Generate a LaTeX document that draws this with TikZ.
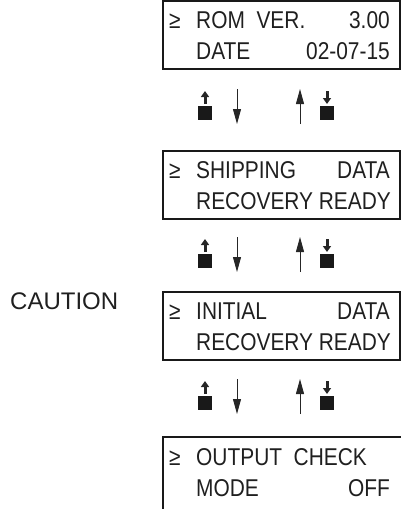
\documentclass[tikz,border=0pt]{standalone}
\usepackage{fontspec}
\setmainfont{Liberation Sans}
\newfontfamily\lcdfont[FakeStretch=0.86]{Liberation Sans}
\usetikzlibrary{arrows.meta}

\begin{document}
\begin{tikzpicture}[x=1pt,y=-1pt,
 lcd/.style={draw=black!90,line width=1.3pt},
 txt/.style={inner sep=0pt,anchor=base west,text=black!88,font=\lcdfont\fontsize{24.3}{28}\selectfont},
 rtxt/.style={txt,anchor=base east},
 thinarrow/.style={black!85,line width=0.9pt,-{Triangle[width=8pt,length=15pt]}},
 keyarrow/.style={black!85,line width=3pt,-{Triangle[width=8pt,length=6pt]}},
 keysq/.style={fill=black!90}]
 \useasboundingbox (0,0) rectangle (401,509);
 \clip (0,0) rectangle (401,509);
 % display 1
 \draw[lcd] (163,1) rectangle (400,69);
 \node[txt] (sel1) at (169,28) {≥}; \node[txt] (rom) at (196,28) {ROM\ \ VER.}; \node[rtxt] (romval) at (390,28) {3.00};
 \node[txt] (date) at (196,59) {DATE}; \node[rtxt] (dateval) at (390,59) {02-07-15};
 % display 2
 \draw[lcd] (163,151) rectangle (400,219);
 \node[txt] (sel2) at (169,178) {≥}; \node[txt] (ship) at (196,178) {SHIPPING}; \node[rtxt] (shipval) at (390,178) {DATA};
 \node[txt] (rec2) at (196,209) {RECOVERY READY};
 % display 3
 \draw[lcd] (163,292) rectangle (400,360);
 \node[txt,font=\fontsize{24}{28}\selectfont] (caution) at (10,309) {CAUTION};
 \node[txt] (sel3) at (169,319) {≥}; \node[txt] (init) at (196,319) {INITIAL}; \node[rtxt] (initval) at (390,319) {DATA};
 \node[txt] (rec3) at (196,350) {RECOVERY READY};
 % display 4 (runs off the page)
 \draw[lcd] (163,515) -- (163,437) -- (402,437);
 \node[txt] (sel4) at (169,465) {≥}; \node[txt] (out) at (196,465) {OUTPUT\ \ CHECK};
 \node[txt] (mode) at (196,496) {MODE}; \node[rtxt] (modeval) at (390,496) {OFF};
 % key rows between the displays
 \foreach \r in {90,238,380} {
  \begin{scope}[shift={(0,\r)}]
   \fill[keysq] (198,16) rectangle (212,30); \draw[keyarrow] (205,14) -- (205,1);
   \draw[thinarrow] (237,-1) -- (237,34);
   \draw[thinarrow] (300,34) -- (300,-1);
   \fill[keysq] (320,16) rectangle (334,30); \draw[keyarrow] (327,1) -- (327,14);
  \end{scope}
 }
\end{tikzpicture}
\end{document}
